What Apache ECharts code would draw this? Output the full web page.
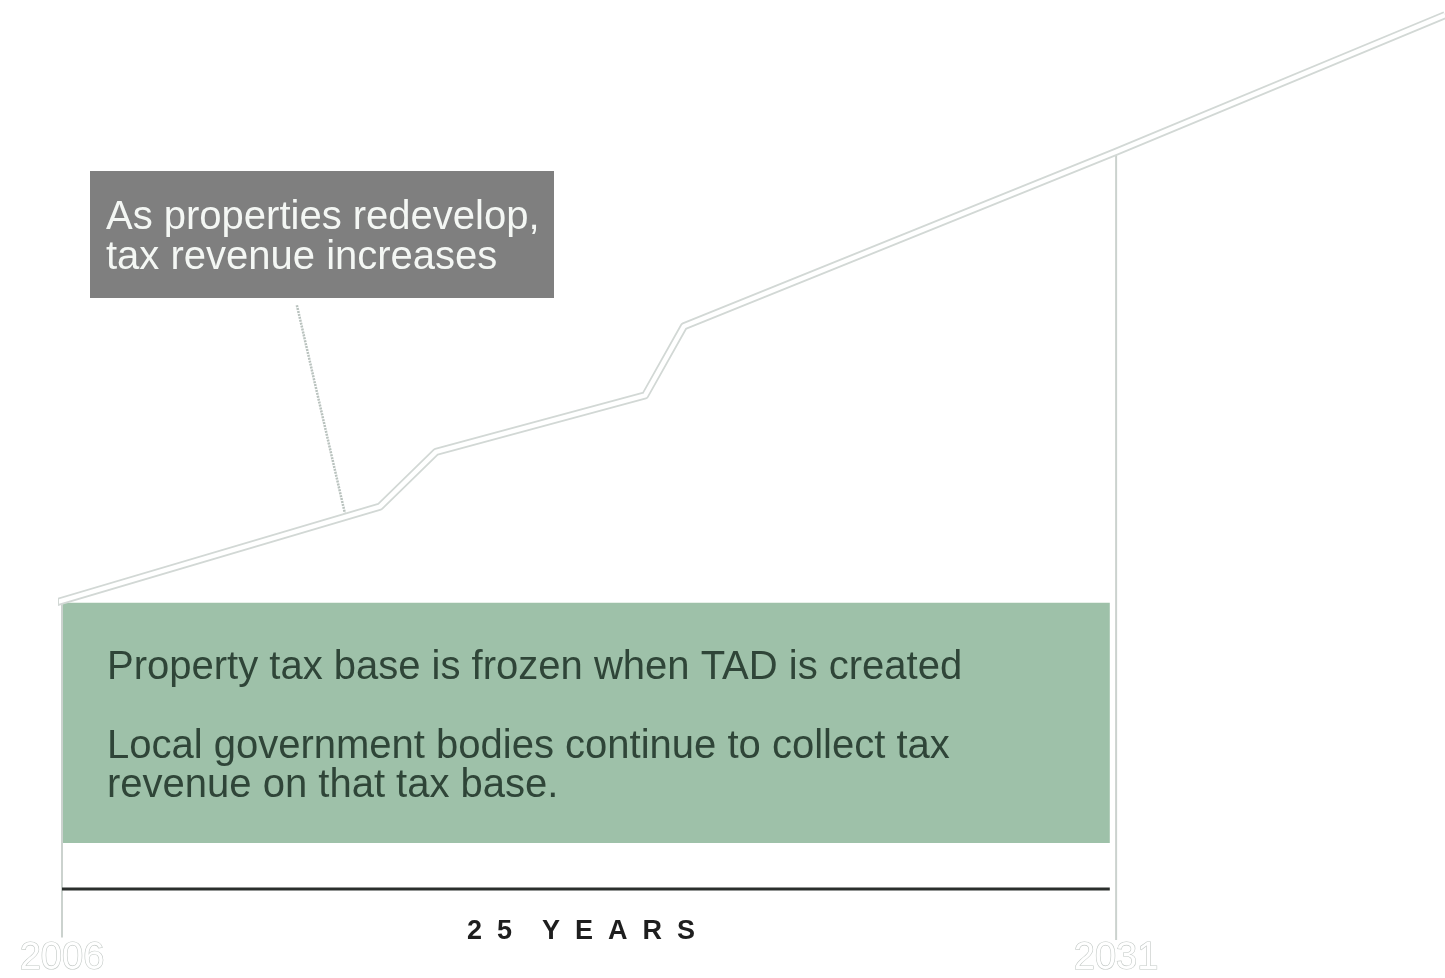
<!DOCTYPE html>
<html>
<head>
<meta charset="utf-8">
<script src="https://cdn.jsdelivr.net/npm/echarts@6/dist/echarts.min.js"></script>
<style>html,body{margin:0;padding:0;background:#fff}#c{width:1445px;height:978px}</style>
</head>
<body>
<div id="c"></div>
<script>
// ---- data ----
const lineYears   = [2005.83, 2013.54, 2014.87, 2019.83, 2020.75, 2031, 2038.8];
const lineRevenue = [28.5, 39.9, 46.4, 53.1, 61.3, 82.0, 98.2];
const baseYear = 2006;
const endYear = 2031;
const axisEndYear = 2038.8;
const frozenBase = 28.5;
const tickYears = [2006, 2031];
const spanLabel = '2  5    Y  E  A  R  S';
const annotationLines = ['As properties redevelop,', 'tax revenue increases'];
const boxLines = ['Property tax base is frozen when TAD is created', 'Local government bodies continue to collect tax', 'revenue on that tax base.'];
const leaderFrom = [2011.57, 63.8];
const leaderTo = [2012.71, 39.1];

const FONT = "'Liberation Sans', Arial, sans-serif";
const chart = echarts.init(document.getElementById('c'));

const mainData = lineYears.map((y, i) => [y, lineRevenue[i]]);
const boxEnd = endYear - 0.15;

chart.setOption({
  animation: false,
  backgroundColor: '#fff',
  grid: { left: 62, right: 0, top: 0, bottom: 135, outerBoundsMode: 'none', containLabel: false },
  xAxis: {
    type: 'value', min: baseYear, max: axisEndYear,
    axisLine: { show: false }, axisTick: { show: false }, splitLine: { show: false },
    axisLabel: {
      customValues: tickYears, margin: 97,
      fontFamily: FONT, fontSize: 38, color: '#fff',
      textBorderColor: '#c3c9c6', textBorderWidth: 1.2,
      formatter: v => String(v)
    }
  },
  yAxis: { type: 'value', min: 0, max: 100, show: false },
  series: [
    { // frozen base box
      type: 'line', data: [], silent: true,
      markArea: {
        silent: true,
        itemStyle: { color: '#9ec1a9' },
        data: [[{ coord: [baseYear, 0] }, { coord: [boxEnd, frozenBase] }]]
      }
    },
    { // left vertical
      type: 'line', clip: false, symbol: 'none', silent: true,
      lineStyle: { color: '#cbd2ce', width: 2 },
      data: [[baseYear, frozenBase + 0.3], [baseYear, -11.2]]
    },
    { // right vertical
      type: 'line', clip: false, symbol: 'none', silent: true,
      lineStyle: { color: '#cbd2ce', width: 2 },
      data: [[endYear, 82.0], [endYear, -11.5]]
    },
    { // span bar
      type: 'line', clip: false, symbol: 'none', silent: true,
      lineStyle: { color: '#2b2f2d', width: 3 },
      data: [[baseYear, -5.46], [boxEnd, -5.46]]
    },
    { // leader line
      type: 'line', clip: false, symbol: 'none', silent: true,
      lineStyle: { color: '#b9c2be', width: 2.5, type: [2, 1] },
      data: [leaderFrom, leaderTo]
    },
    { // revenue line outer
      type: 'line', clip: false, symbol: 'none', silent: true,
      lineStyle: { color: '#d2d8d5', width: 8, join: 'round' },
      data: mainData
    },
    { // revenue line inner
      type: 'line', clip: false, symbol: 'none', silent: true,
      lineStyle: { color: '#ffffff', width: 4.5, join: 'round' },
      data: mainData
    }
  ],
  graphic: [
    { type: 'rect', shape: { x: 90, y: 171, width: 464, height: 127 }, style: { fill: '#7f7f7f' }, z: 10 },
    { type: 'text', x: 106, y: 218, z: 11, style: { text: annotationLines[0], fill: '#f4f7f4', font: '40px ' + FONT, verticalAlign: 'middle' } },
    { type: 'text', x: 106, y: 258, z: 11, style: { text: annotationLines[1], fill: '#f4f7f4', font: '40px ' + FONT, verticalAlign: 'middle' } },
    { type: 'text', x: 107, y: 668, z: 11, style: { text: boxLines[0], fill: '#2f4538', font: '40px ' + FONT, verticalAlign: 'middle' } },
    { type: 'text', x: 107, y: 747, z: 11, style: { text: boxLines[1], fill: '#2f4538', font: '40px ' + FONT, verticalAlign: 'middle' } },
    { type: 'text', x: 107, y: 786, z: 11, style: { text: boxLines[2], fill: '#2f4538', font: '40px ' + FONT, verticalAlign: 'middle' } },
    { type: 'text', x: 581, y: 932, z: 11, style: { text: spanLabel, fill: '#1e1e1e', font: 'bold 27px ' + FONT, align: 'center', verticalAlign: 'middle' } }
  ]
});
</script>
</body>
</html>
